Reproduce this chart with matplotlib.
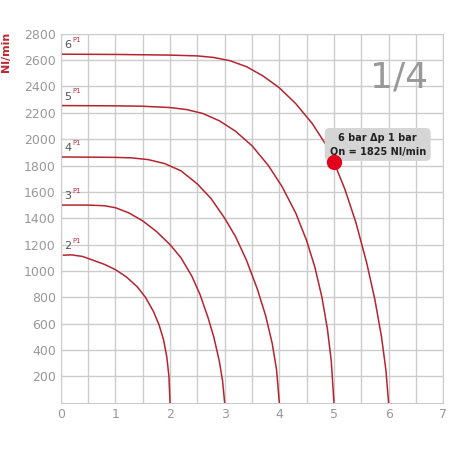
import matplotlib.pyplot as plt

# curves per inlet pressure (bar): flow rate in Nl/min vs outlet pressure
p1_labels = ['2', '3', '4', '5', '6']
curve_x = [
    [0.05, 0.2, 0.4, 0.6, 0.8, 1.0, 1.2, 1.4, 1.55, 1.7, 1.8, 1.88, 1.94, 1.98, 2.0],
    [0.0, 0.5, 0.8, 1.0, 1.25, 1.5, 1.75, 2.0, 2.2, 2.4, 2.55, 2.7, 2.8, 2.9, 2.96, 3.0],
    [0.0, 1.0, 1.3, 1.6, 1.9, 2.2, 2.5, 2.75, 3.0, 3.2, 3.4, 3.6, 3.75, 3.87, 3.95, 4.0],
    [0.0, 1.0, 1.5, 2.0, 2.3, 2.6, 2.9, 3.2, 3.5, 3.8, 4.05, 4.3, 4.5, 4.65, 4.78, 4.88, 4.95, 5.0],
    [0.0, 1.0, 2.0, 2.5, 2.8, 3.1, 3.4, 3.7, 4.0, 4.3, 4.6, 4.85, 5.0, 5.2, 5.4, 5.6, 5.75, 5.87, 5.95, 6.0],
]
curve_y = [
    [1120, 1122, 1110, 1080, 1050, 1010, 955, 880, 800, 690, 590, 480, 350, 200, 0],
    [1500, 1500, 1495, 1480, 1440, 1380, 1300, 1200, 1100, 960, 820, 640, 500, 320, 170, 0],
    [1865, 1862, 1858, 1845, 1815, 1760, 1660, 1550, 1400, 1260, 1080, 860, 660, 450, 250, 0],
    [2255, 2253, 2250, 2240, 2225, 2195, 2140, 2060, 1950, 1800, 1640, 1440, 1230, 1030, 800, 560, 320, 0],
    [2645, 2643, 2638, 2632, 2620, 2595, 2550, 2480, 2390, 2270, 2120, 1960, 1825, 1620, 1370, 1060, 780, 500, 250, 0],
]
point_x, point_y = 5, 1825

fig, ax = plt.subplots(figsize=(4.5, 4.5), dpi=100)
fig.subplots_adjust(left=0.135, right=0.985, top=0.925, bottom=0.105)

for lab, xs, ys in zip(p1_labels, curve_x, curve_y):
    ax.plot(xs, ys, color='#b5242f', lw=1.1)
    ax.text(0.07, ys[0] + 30, lab, fontsize=8, color='#555555', va='bottom')
    ax.text(0.07 + 0.14, ys[0] + 85, 'P1', fontsize=5, color='#d03040', va='bottom')

ax.plot(point_x, point_y, 'o', color='#e3001b', ms=10, zorder=5)
ax.text(5.8, 1960, '6 bar Δp 1 bar\nQn = 1825 Nl/min', ha='center', va='center',
        fontsize=7, fontweight='bold', color='#222222', linespacing=1.4,
        bbox=dict(boxstyle='round,pad=0.5', fc='#d5d5d5', ec='none'))
ax.text(6.2, 2470, '1/4', fontsize=26, color='#999999', ha='center', va='center')

ax.set_xlim(0, 7)
ax.set_ylim(0, 2800)
ax.set_xticks(range(0, 8))
ax.set_xticks([i + 0.5 for i in range(7)], minor=True)
ax.set_yticks(range(200, 2801, 200))
ax.grid(True, which='both', color='#cccccc', lw=1)
ax.tick_params(length=0, labelsize=9, colors='#999999', which='both')
for s in ax.spines.values():
    s.set_color('#cccccc')
ax.set_ylabel('Nl/min', color='#c0282f', fontweight='bold', fontsize=8)
ax.yaxis.set_label_coords(-0.13, 0.95)

fig.savefig('out.png')
